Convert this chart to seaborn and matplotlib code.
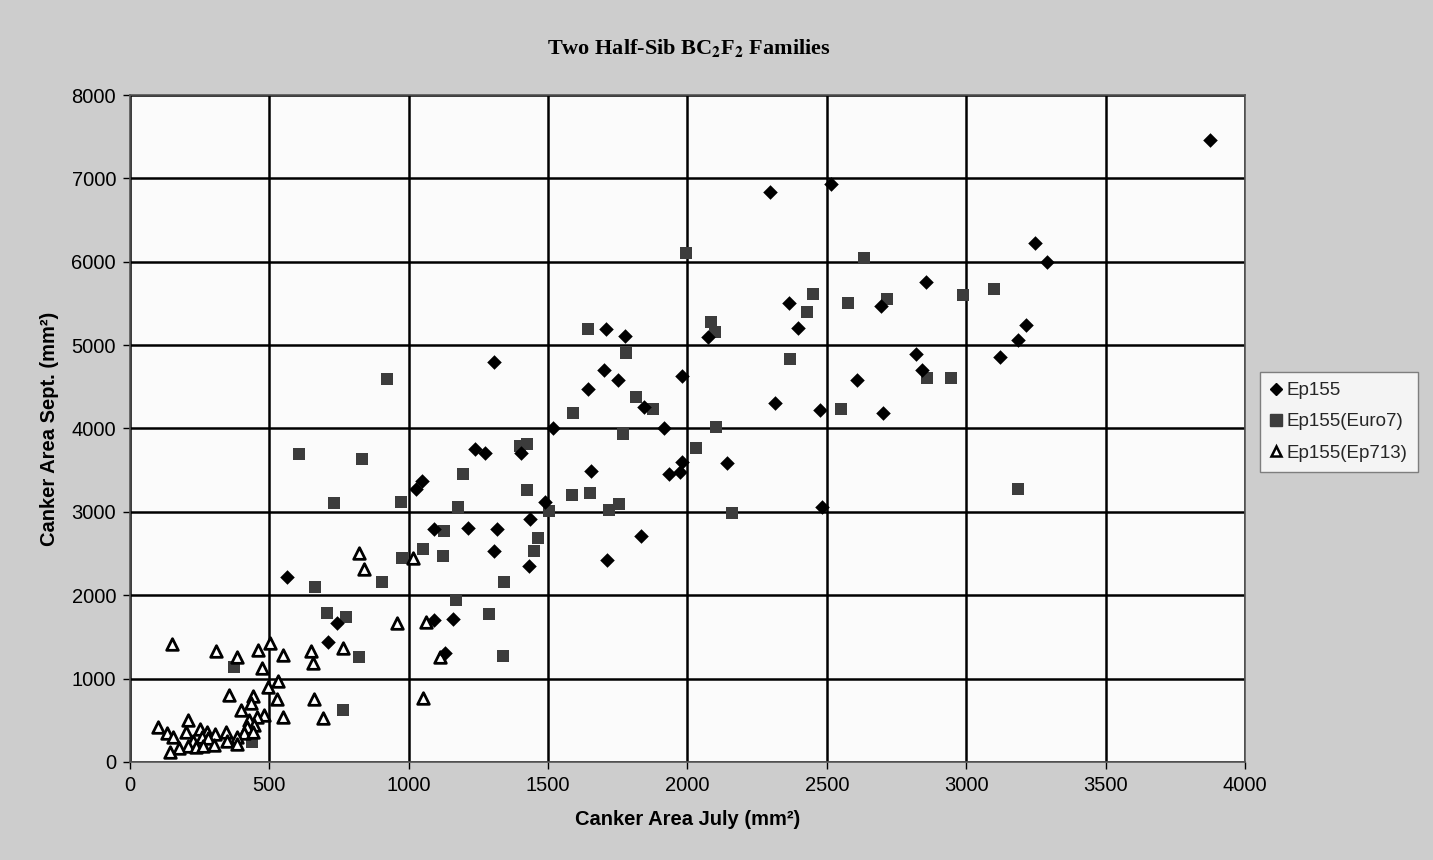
import matplotlib
matplotlib.use("Agg")
import matplotlib.pyplot as plt
import seaborn as sns
import pandas as pd
from matplotlib.lines import Line2D

# ---------------- data ----------------
ep155_x = [3874, 2296, 2514, 3246, 3290, 2855, 2696, 2365, 2397, 3214, 3184, 3121,
           2819, 2842, 2607, 2314, 2475, 2700, 2481, 1708, 1776, 2072, 1306, 1701,
           1752, 1644, 1979, 1845, 1518, 1917, 2140, 1982, 1973, 1932, 1654, 1489,
           1832, 1712, 1237, 1273, 1401, 1049, 1025, 1435, 1092, 1211, 1315, 1306,
           1430, 563, 741, 710, 1160, 1092, 1131]
ep155_y = [7460, 6838, 6935, 6227, 6000, 5752, 5475, 5510, 5205, 5245, 5060, 4852,
           4890, 4706, 4580, 4300, 4220, 4188, 3061, 5190, 5108, 5100, 4796, 4700,
           4580, 4469, 4628, 4253, 4000, 4008, 3589, 3601, 3473, 3453, 3493, 3121,
           2710, 2422, 3749, 3701, 3701, 3373, 3270, 2910, 2790, 2802, 2790, 2530,
           2354, 2218, 1663, 1435, 1711, 1703, 1311]

euro7_x = [1994, 2633, 3100, 2989, 2449, 2577, 2714, 2430, 2085, 2100, 1643, 1779,
           2367, 2858, 2947, 922, 1817, 1877, 1590, 2549, 2104, 1767, 1399, 1426,
           2030, 607, 831, 1193, 1423, 1652, 1584, 3184, 732, 972, 1176, 1754,
           1718, 1504, 2161, 1126, 1462, 1052, 1448, 976, 1124, 905, 662, 1343,
           1169, 1288, 706, 775, 821, 1337, 764, 374, 438]
euro7_y = [6100, 6040, 5670, 5600, 5612, 5500, 5550, 5400, 5280, 5160, 5190, 4908,
           4828, 4610, 4600, 4592, 4373, 4229, 4188, 4236, 4013, 3929, 3789, 3813,
           3761, 3689, 3637, 3449, 3261, 3229, 3201, 3270, 3102, 3114, 3054, 3094,
           3017, 3005, 2981, 2770, 2682, 2554, 2530, 2450, 2470, 2155, 2102, 2160,
           1942, 1775, 1791, 1743, 1255, 1271, 620, 1143, 244]

ep713_x = [1016, 823, 839, 1062, 958, 765, 650, 658, 1112, 1050, 660, 691,
           150, 307, 383, 460, 502, 548, 472, 531, 495, 356, 440, 433, 526,
           397, 550, 481, 457, 427, 445, 419, 409, 207, 99, 132, 155, 200,
           251, 275, 305, 344, 383, 227, 257, 281, 347, 385, 209, 237, 263,
           301, 177, 143, 440]
ep713_y = [2450, 2502, 2310, 1675, 1670, 1371, 1335, 1184, 1263, 771, 755, 524,
           1415, 1335, 1255, 1343, 1430, 1279, 1131, 971, 903, 803, 793, 702, 755,
           623, 536, 564, 544, 504, 444, 416, 344, 504, 424, 344, 296, 356,
           396, 356, 336, 364, 296, 256, 304, 284, 256, 216, 192, 184, 192,
           204, 164, 116, 364]

series_names = ["Ep155", "Ep155(Euro7)", "Ep155(Ep713)"]
x_ticks = [0, 500, 1000, 1500, 2000, 2500, 3000, 3500, 4000]
y_ticks = [0, 1000, 2000, 3000, 4000, 5000, 6000, 7000, 8000]

df = pd.concat([
    pd.DataFrame({"july": ep155_x, "sept": ep155_y, "family": series_names[0]}),
    pd.DataFrame({"july": euro7_x, "sept": euro7_y, "family": series_names[1]}),
    pd.DataFrame({"july": ep713_x, "sept": ep713_y, "family": series_names[2]}),
])

# ---------------- style ----------------
sns.set_theme(style="white")
plt.rcParams["font.family"] = ["Liberation Sans", "DejaVu Sans"]
plt.rcParams["mathtext.fontset"] = "stix"

fig = plt.figure(figsize=(14.33, 8.6), dpi=100, facecolor="#cdcdcd")
ax = fig.add_axes([0.0907, 0.114, 0.7781, 0.7755])
ax.set_facecolor("#fbfbfb")

sub = df[df.family == series_names[0]]
sns.scatterplot(data=sub, x="july", y="sept", marker="D", s=55, color="black",
                edgecolor="black", linewidth=0, ax=ax, zorder=4)
sub = df[df.family == series_names[1]]
sns.scatterplot(data=sub, x="july", y="sept", marker="s", s=75, color="#3c3c3c",
                edgecolor="#3c3c3c", linewidth=0, ax=ax, zorder=3)
sub = df[df.family == series_names[2]]
sns.scatterplot(data=sub, x="july", y="sept", marker="^", s=70, facecolor="white",
                edgecolor="black", linewidth=2.0, ax=ax, zorder=3)

ax.set_xlim(0, 4000)
ax.set_ylim(0, 8000)
ax.set_xticks(x_ticks)
ax.set_yticks(y_ticks)
ax.grid(True, color="black", linewidth=1.8)
ax.set_axisbelow(True)
for sp in ax.spines.values():
    sp.set_visible(True)
    sp.set_color("#555555")
    sp.set_linewidth(1.2)
ax.tick_params(axis="both", which="major", labelsize=14.5, length=5, width=1,
               color="black", direction="out", bottom=True, left=True, pad=5)
for lab in ax.get_xticklabels() + ax.get_yticklabels():
    lab.set_color("black")

ax.set_xlabel("Canker Area July (mm²)", fontsize=14.5, fontweight="bold",
              color="black", labelpad=11)
ax.set_ylabel("Canker Area Sept. (mm²)", fontsize=14.5, fontweight="bold",
              color="black", labelpad=9)

fig.text(0.481, 0.944, r"Two Half-Sib BC$_{\mathbf{2}}$F$_{\mathbf{2}}$ Families",
         ha="center", va="center", fontsize=16, fontweight="bold",
         family=["Liberation Serif", "DejaVu Serif"], color="black")

handles = [
    Line2D([], [], marker="D", linestyle="none", color="black", markersize=6.5),
    Line2D([], [], marker="s", linestyle="none", color="#3c3c3c", markersize=8),
    Line2D([], [], marker="^", linestyle="none", markerfacecolor="white",
           markeredgecolor="black", markeredgewidth=1.8, markersize=7.5),
]
leg = fig.legend(handles, series_names, loc="upper left",
                 bbox_to_anchor=(0.8765, 0.572), frameon=True, fontsize=13.5,
                 handlelength=0.6, handletextpad=0.3, labelspacing=0.75,
                 borderpad=0.55, borderaxespad=0.2, fancybox=False)
leg.get_frame().set_edgecolor("#666666")
leg.get_frame().set_facecolor("white")
leg.get_frame().set_linewidth(1.0)

fig.savefig("out.png", dpi=100, facecolor=fig.get_facecolor())
